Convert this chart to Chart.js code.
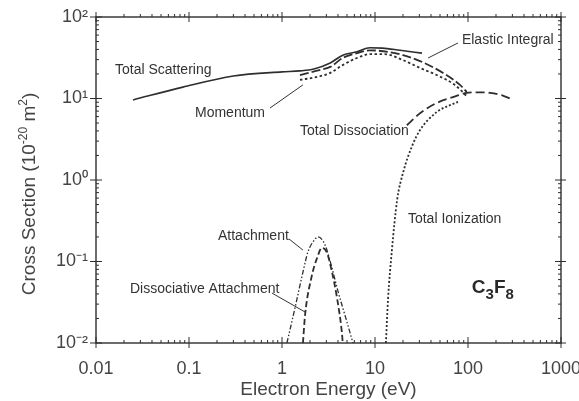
<!DOCTYPE html>
<html>
<head>
<meta charset="utf-8">
<script src="https://cdn.jsdelivr.net/npm/chart.js@4/dist/chart.umd.min.js"></script>
<style>
html,body{margin:0;padding:0;background:#fff;}
#wrap{width:579px;height:401px;}
</style>
</head>
<body>
<div id="wrap"><canvas id="c" width="579" height="401"></canvas></div>
<script>
// ---- data (energy in eV, cross section in 1e-20 m^2) ----
const scatE = [0.025, 0.086, 0.3, 1.0, 1.56, 2.2, 3.3, 4.5, 6.4, 8.8, 12, 18.6, 32];
const scatS = [9.6, 13.8, 18.9, 21.2, 21.8, 23.0, 27.3, 34, 37.4, 42, 41.5, 39, 36];

const elasE = [1.56, 2.38, 3.3, 4.5, 6.4, 8.8, 14.5, 20, 30.5, 54, 82, 97];
const elasS = [19.4, 22.0, 24.4, 31.4, 36, 39, 37, 34, 28.8, 20.6, 14.7, 12];

const momE = [1.56, 2.38, 3.3, 4.5, 6.4, 8.8, 12.8, 20, 30.5, 46, 72, 97];
const momS = [16.9, 18.4, 20.6, 25.7, 31.4, 35, 35, 29.6, 23.7, 19.4, 14.7, 10.7];

const dissE = [22, 30.5, 46, 69, 97, 130, 173, 240, 305];
const dissS = [4.7, 6.6, 8.8, 10.4, 11.7, 11.9, 11.7, 10.8, 9.6];

const ionE = [13.1, 13.8, 15.2, 17.3, 20, 25, 30.5, 46, 78];
const ionS = [0.01, 0.034, 0.138, 0.57, 1.22, 2.6, 4.1, 6.8, 9.1];

const attE = [1.13, 1.38, 1.68, 1.9, 2.2, 2.44, 2.9, 3.45, 4.0, 4.75, 5.8];
const attS = [0.01, 0.027, 0.074, 0.131, 0.18, 0.2, 0.16, 0.083, 0.043, 0.022, 0.01];

const dattE = [1.68, 1.77, 2.1, 2.38, 2.69, 3.05, 3.45, 3.9, 4.4, 4.5];
const dattS = [0.01, 0.022, 0.068, 0.11, 0.147, 0.127, 0.074, 0.036, 0.0136, 0.01];

const xTickLabels = ['0.01', '0.1', '1', '10', '100', '1000'];
const yTickLabels = ['10\u207B\u00B2', '10\u207B\u00B9', '10\u2070', '10\u00B9', '10\u00B2'];

// curve labels (placed in data coordinates)
const labelText = ['Total Scattering', 'Momentum', 'Elastic Integral', 'Total Dissociation', 'Total Ionization', 'Attachment', 'Dissociative Attachment'];
const labelE = [0.016, 0.116, 86, 1.56, 22.6, 0.205, 0.0232];
const labelS = [22.4, 6.64, 52, 3.99, 0.332, 0.206, 0.046];
// pointer lines [E1, S1, E2, S2]
const pointers = [
  [0.743, 7.64, 1.68, 14.7],
  [37.2, 31.4, 78, 48],
  [1.19, 0.189, 1.68, 0.138],
  [0.78, 0.041, 1.77, 0.024]
];
// y-axis title pieces: [text, superscript?]
const yTitleParts = [['Cross Section (10', false], ['-20', true], [' m', false], ['2', true], [')', false]];

const pts = (xs, ys) => xs.map((v, i) => ({x: v, y: ys[i]}));
const ink = '#2e2e2e';
const FAM = '"Liberation Sans", Arial, sans-serif';

function ds(label, xs, ys, dash, width) {
  return {
    label, data: pts(xs, ys), borderColor: ink, borderWidth: width,
    borderDash: dash, pointRadius: 0, cubicInterpolationMode: 'monotone',
    fill: false, borderCapStyle: 'butt'
  };
}

const decadeIndex = (v, min) => {
  const l = Math.log10(v);
  const r = Math.round(l);
  return Math.abs(l - r) < 1e-6 ? r - min : -1;
};

const decor = {
  id: 'decor',
  afterDatasetsDraw(chart) {
    const {ctx, chartArea: a, scales: {x, y}} = chart;
    ctx.save();
    ctx.strokeStyle = ink;
    ctx.lineWidth = 1.4;
    ctx.strokeRect(a.left, a.top, a.right - a.left, a.bottom - a.top);
    ctx.lineWidth = 1;
    ctx.beginPath();
    for (let d = -2; d <= 3; d++) {
      for (let m = 1; m <= 9; m++) {
        const v = m * Math.pow(10, d);
        if (v > 1000.0001) break;
        const px = x.getPixelForValue(v);
        const maj = m === 1;
        ctx.moveTo(px, a.bottom + (maj ? 5 : 0)); ctx.lineTo(px, a.bottom - (maj ? 6 : 3));
        ctx.moveTo(px, a.top - (maj ? 5 : 3)); ctx.lineTo(px, a.top + (maj ? 5 : 0));
      }
    }
    for (let d = -2; d <= 2; d++) {
      for (let m = 1; m <= 9; m++) {
        const v = m * Math.pow(10, d);
        if (v > 100.0001) break;
        const py = y.getPixelForValue(v);
        const maj = m === 1;
        ctx.moveTo(a.left - (maj ? 6 : 0), py); ctx.lineTo(a.left + (maj ? 6 : 3), py);
        ctx.moveTo(a.right + (maj ? 5 : 0), py); ctx.lineTo(a.right - (maj ? 6 : 3), py);
      }
    }
    ctx.stroke();

    // pointer lines
    ctx.strokeStyle = '#333';
    ctx.beginPath();
    pointers.forEach(p => {
      ctx.moveTo(x.getPixelForValue(p[0]), y.getPixelForValue(p[1]));
      ctx.lineTo(x.getPixelForValue(p[2]), y.getPixelForValue(p[3]));
    });
    ctx.stroke();

    // labels
    ctx.fillStyle = '#333';
    ctx.font = '14px ' + FAM;
    ctx.textBaseline = 'middle';
    ctx.textAlign = 'left';
    labelText.forEach((t, i) => {
      ctx.fillText(t, x.getPixelForValue(labelE[i]), y.getPixelForValue(labelS[i]));
    });

    // molecule formula C3F8
    let cx = x.getPixelForValue(110);
    const by = y.getPixelForValue(0.041);
    ctx.textBaseline = 'alphabetic';
    ctx.fillStyle = '#2a2a2a';
    const big = 'bold 19px ' + FAM;
    const sub = 'bold 15px ' + FAM;
    [['C', big, 0], ['3', sub, 6], ['F', big, 0], ['8', sub, 6]].forEach(([t, f, dy]) => {
      ctx.font = f;
      ctx.fillText(t, cx, by + dy);
      cx += ctx.measureText(t).width;
    });

    // y axis title with real superscripts
    ctx.fillStyle = '#444';
    const mainF = '19px ' + FAM, supF = '12px ' + FAM;
    let w = 0;
    yTitleParts.forEach(([t, s]) => { ctx.font = s ? supF : mainF; w += ctx.measureText(t).width; });
    ctx.translate(28, (a.top + a.bottom) / 2 + 14);
    ctx.rotate(-Math.PI / 2);
    let tx = -w / 2;
    yTitleParts.forEach(([t, s]) => {
      ctx.font = s ? supF : mainF;
      ctx.fillText(t, tx, s ? -1 : 7);
      tx += ctx.measureText(t).width;
    });
    ctx.restore();
  }
};

new Chart(document.getElementById('c'), {
  type: 'line',
  data: {
    datasets: [
      ds('Total Scattering', scatE, scatS, [], 1.6),
      ds('Elastic Integral', elasE, elasS, [9, 3], 1.8),
      ds('Momentum', momE, momS, [2.5, 2.5], 1.8),
      ds('Total Dissociation', dissE, dissS, [9, 4], 1.8),
      ds('Total Ionization', ionE, ionS, [2, 2], 1.8),
      ds('Attachment', attE, attS, [5, 2, 1.5, 2, 1.5, 2], 1.3),
      ds('Dissociative Attachment', dattE, dattS, [6, 3], 1.8)
    ]
  },
  options: {
    responsive: false,
    animation: false,
    devicePixelRatio: 1,
    layout: {autoPadding: false, padding: {left: 0, top: 17, right: 18, bottom: 0}},
    plugins: {legend: {display: false}, tooltip: {enabled: false}},
    scales: {
      x: {
        type: 'logarithmic', min: 0.01, max: 1000, position: 'bottom',
        grid: {display: false, drawTicks: false},
        border: {display: false},
        ticks: {
          autoSkip: false, maxRotation: 0, padding: 15, color: '#444',
          font: {size: 18, family: FAM},
          callback: (v) => { const k = decadeIndex(v, -2); return k >= 0 ? xTickLabels[k] : ''; }
        },
        title: {display: true, text: 'Electron Energy (eV)', color: '#444', padding: 0,
          font: {size: 19, family: FAM}},
        afterFit: (s) => { s.height = 58; s.paddingLeft = 0; s.paddingRight = 0; }
      },
      y: {
        type: 'logarithmic', min: 0.01, max: 100, position: 'left',
        grid: {display: false, drawTicks: false},
        border: {display: false},
        ticks: {
          autoSkip: false, padding: 8, color: '#444',
          font: {size: 18, family: FAM},
          callback: (v) => { const k = decadeIndex(v, -2); return k >= 0 ? yTickLabels[k] : ''; }
        },
        title: {display: false},
        afterFit: (s) => { s.width = 96; s.paddingTop = 0; s.paddingBottom = 0; }
      }
    }
  },
  plugins: [decor]
});
</script>
</body>
</html>
